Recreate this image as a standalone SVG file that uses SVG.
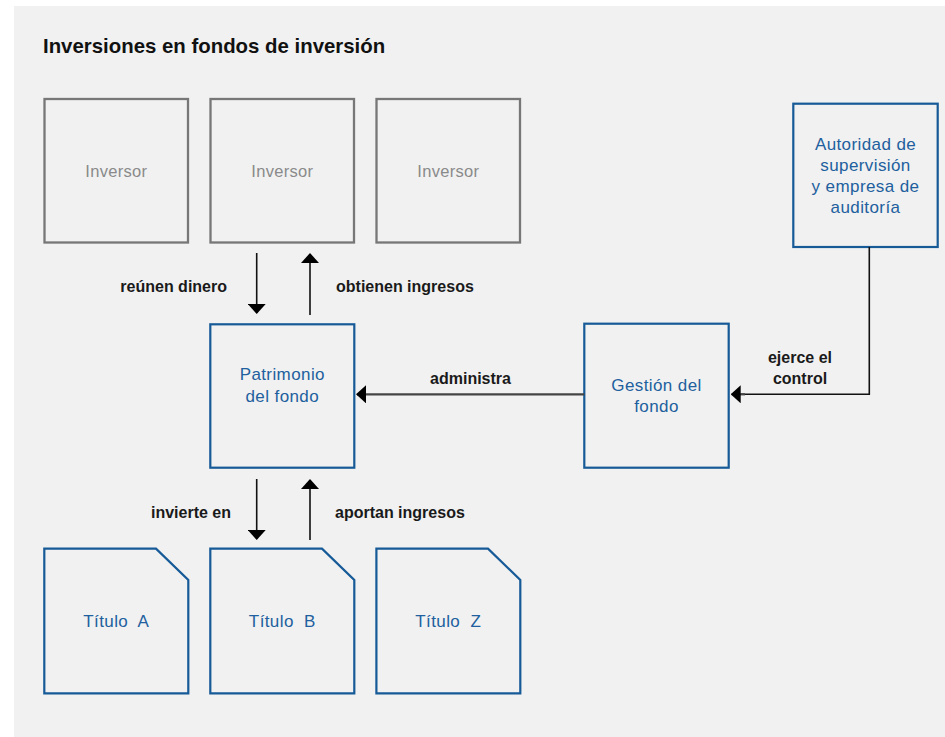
<svg xmlns="http://www.w3.org/2000/svg" width="945" height="737" viewBox="0 0 945 737">
<defs>
<marker id="ah" viewBox="0 0 10 18" refX="9" refY="9" markerWidth="10" markerHeight="18" markerUnits="userSpaceOnUse" orient="auto">
<path d="M0,0 L10,9 L0,18 Z" fill="#000"/>
</marker>
<style>
.inv{fill:none;stroke:#777777;stroke-width:2.3}
.blue{fill:none;stroke:#165a97;stroke-width:2.2}
.tg{font-family:"Liberation Sans",Arial,sans-serif;font-size:16.5px;letter-spacing:0.3px;fill:#8a8a8a;text-anchor:middle}
.tb{font-family:"Liberation Sans",Arial,sans-serif;font-size:17px;letter-spacing:0.4px;fill:#21609e;text-anchor:middle}
.lbl{font-family:"Liberation Sans",Arial,sans-serif;font-size:16px;font-weight:bold;fill:#1a1a1a}
.title{font-family:"Liberation Sans",Arial,sans-serif;font-size:20.4px;font-weight:bold;fill:#111}
.v{stroke:#111;stroke-width:1.6;fill:none}
.h{stroke:#444;stroke-width:2.2;fill:none}
</style>
</defs>
<rect x="0" y="0" width="945" height="737" fill="#ffffff"/>
<rect x="14" y="6" width="931" height="731" fill="#f1f1f1"/>
<text class="title" x="43" y="52.7">Inversiones en fondos de inversión</text>

<g id="inversor1"><rect class="inv" x="44.5" y="99" width="143.5" height="143.5"/><text class="tg" x="116.3" y="176.7">Inversor</text></g>
<g id="inversor2"><rect class="inv" x="210.5" y="99" width="143.5" height="143.5"/><text class="tg" x="282.3" y="176.7">Inversor</text></g>
<g id="inversor3"><rect class="inv" x="376.5" y="99" width="143.5" height="143.5"/><text class="tg" x="448.3" y="176.7">Inversor</text></g>

<g id="autoridad"><rect class="blue" x="793.3" y="103.7" width="144.4" height="143.3"/>
<text class="tb" x="865.5" y="150">Autoridad de</text>
<text class="tb" x="865.5" y="171">supervisión</text>
<text class="tb" x="865.5" y="192">y empresa de</text>
<text class="tb" x="865.5" y="213">auditoría</text></g>

<g id="patrimonio"><rect class="blue" x="210.3" y="324.3" width="144" height="143.4"/>
<text class="tb" x="282.3" y="380">Patrimonio</text>
<text class="tb" x="282.3" y="401.7">del fondo</text></g>

<g id="gestion"><rect class="blue" x="584.3" y="323.7" width="144.4" height="144"/>
<text class="tb" x="656.5" y="391">Gestión del</text>
<text class="tb" x="656.5" y="411.7">fondo</text></g>

<g id="tituloA"><path class="blue" d="M44.3,548.7 H156 L188.3,580 V693.3 H44.3 Z"/><text class="tb" x="116.3" y="626.7" xml:space="preserve">Título  A</text></g>
<g id="tituloB"><path class="blue" d="M210.3,548.7 H322 L354.3,580 V693.3 H210.3 Z"/><text class="tb" x="282.3" y="626.7" xml:space="preserve">Título  B</text></g>
<g id="tituloZ"><path class="blue" d="M376.4,548.7 H488 L520.3,580 V693.3 H376.4 Z"/><text class="tb" x="448.3" y="626.7" xml:space="preserve">Título  Z</text></g>

<g id="connectors">
<line class="v" x1="256.7" y1="253" x2="256.7" y2="313" marker-end="url(#ah)"/>
<line class="v" x1="310" y1="315" x2="310" y2="254" marker-end="url(#ah)"/>
<line class="v" x1="256.7" y1="479" x2="256.7" y2="539" marker-end="url(#ah)"/>
<line class="v" x1="310" y1="540" x2="310" y2="480" marker-end="url(#ah)"/>
<line class="h" x1="584.3" y1="394.3" x2="357" y2="394.3" marker-end="url(#ah)"/>
<polyline class="v" points="869.3,247 869.3,394.3 741,394.3"/>
<line class="h" x1="745" y1="394.3" x2="731.7" y2="394.3" marker-end="url(#ah)"/>
</g>

<g id="labels">
<text class="lbl" x="227" y="292" text-anchor="end">reúnen dinero</text>
<text class="lbl" x="336" y="292">obtienen ingresos</text>
<text class="lbl" x="470.5" y="384.3" text-anchor="middle">administra</text>
<text class="lbl" x="800" y="363" text-anchor="middle">ejerce el</text>
<text class="lbl" x="800" y="384" text-anchor="middle">control</text>
<text class="lbl" x="231" y="518.3" text-anchor="end">invierte en</text>
<text class="lbl" x="335" y="518.3">aportan ingresos</text>
</g>
</svg>
